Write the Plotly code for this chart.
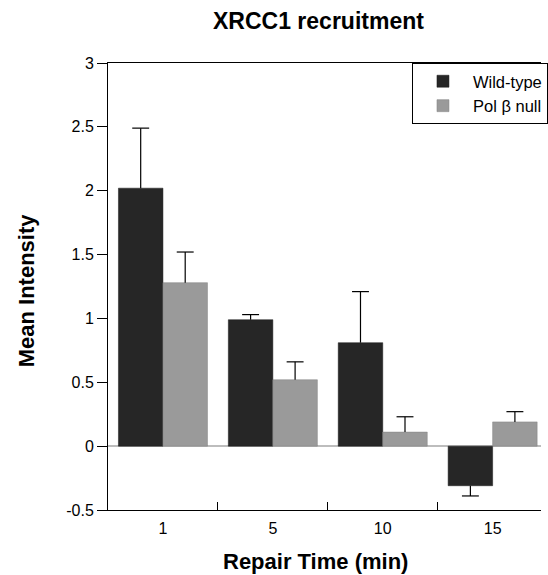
import plotly.graph_objects as go

categories = ["1", "5", "10", "15"]
wt_values = [2.02, 0.99, 0.81, -0.31]
wt_err_up = [0.47, 0.04, 0.40, 0.0]
wt_err_down = [0.0, 0.0, 0.0, 0.08]
null_values = [1.28, 0.52, 0.11, 0.19]
null_err_up = [0.24, 0.14, 0.12, 0.08]
null_err_down = [0.0, 0.0, 0.0, 0.0]
y_tickvals = [-0.5, 0, 0.5, 1, 1.5, 2, 2.5, 3]
y_ticktext = ["-0.5", "0", "0.5", "1", "1.5", "2", "2.5", "3"]

FONT = "Liberation Sans, Arial, Helvetica, sans-serif"
BARGAP = 0.19
BAR_W = (1 - BARGAP) / 2
CAP = 0.077


def error_path(values, up, down, shift):
    xs, ys = [], []
    for i, (v, u, d) in enumerate(zip(values, up, down)):
        xc = i + shift
        end = v + u if u > 0 else v - d
        xs += [xc, xc, None, xc - CAP, xc + CAP, None]
        ys += [v, end, None, end, end, None]
    return xs, ys


fig = go.Figure()
fig.add_trace(go.Bar(
    x=categories, y=wt_values, name="Wild-type",
    marker=dict(color="#262626", line=dict(color="#1a1a1a", width=0.5)),
))
fig.add_trace(go.Bar(
    x=categories, y=null_values, name="Pol β null",
    marker=dict(color="#9a9a9a", line=dict(color="#808080", width=0.5)),
))
for vals, up, down, shift in [(wt_values, wt_err_up, wt_err_down, -BAR_W / 2),
                              (null_values, null_err_up, null_err_down, BAR_W / 2)]:
    ex, ey = error_path(vals, up, down, shift)
    fig.add_trace(go.Scatter(x=ex, y=ey, xaxis="x2", mode="lines",
                             line=dict(color="black", width=1.2),
                             showlegend=False, hoverinfo="skip"))

fig.update_layout(
    width=548, height=575,
    margin=dict(l=108, r=0, t=63, b=65),
    paper_bgcolor="white", plot_bgcolor="white",
    barmode="group", bargap=BARGAP, bargroupgap=0,
    font=dict(family=FONT, color="black", size=16),
    legend=dict(x=0.702, y=1.0, xanchor="left", yanchor="top",
                bgcolor="white", bordercolor="black", borderwidth=1,
                font=dict(size=16.5, family=FONT, color="black"),
                itemwidth=50, tracegroupgap=0),
    showlegend=True,
    xaxis=dict(
        type="category", range=[-0.5, 3.44],
        showline=True, linecolor="black", linewidth=1, mirror=True,
        ticks="inside", tickson="boundaries", ticklen=8, tickcolor="black",
        showgrid=False, zeroline=False, ticklabelstandoff=4,
        tickfont=dict(size=16, family=FONT),
    ),
    xaxis2=dict(overlaying="x", range=[-0.5, 3.44], visible=False, anchor="y"),
    yaxis=dict(
        range=[-0.5, 3], tickvals=y_tickvals, ticktext=y_ticktext,
        showline=True, linecolor="black", linewidth=1,
        ticks="outside", ticklen=10, tickcolor="black",
        showgrid=False, zeroline=True, zerolinecolor="#bdbdbd", zerolinewidth=1.5,
        tickfont=dict(size=16, family=FONT),
    ),
    annotations=[
        dict(text="<b>XRCC1 recruitment</b>", xref="paper", yref="paper",
             x=(322 - 108) / 440, y=1 + (63 - 21) / 447, xanchor="center", yanchor="middle",
             showarrow=False, font=dict(size=23, family=FONT, color="black")),
        dict(text="<b>Repair Time (min)</b>", xref="paper", yref="paper",
             x=(319 - 108) / 440, y=-(561 - 510) / 447, xanchor="center", yanchor="middle",
             showarrow=False, font=dict(size=22, family=FONT, color="black")),
        dict(text="<b>Mean Intensity</b>", xref="paper", yref="paper", textangle=-90,
             x=(25 - 108) / 440, y=(510 - 290) / 447, xanchor="center", yanchor="middle",
             showarrow=False, font=dict(size=22, family=FONT, color="black")),
    ],
)

fig.write_html("out.html",
               config={"displayModeBar": False},
               post_script="document.body.style.margin='0px';document.body.style.overflow='hidden';")
